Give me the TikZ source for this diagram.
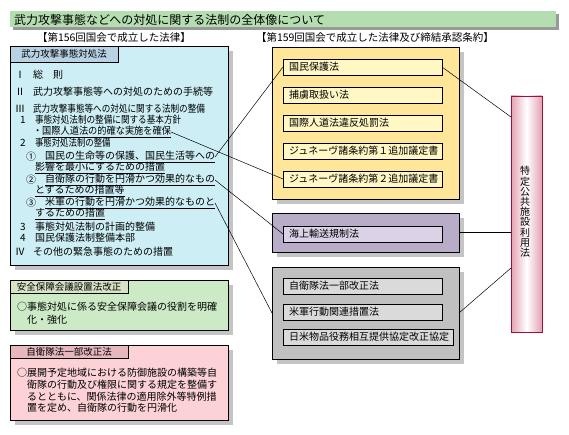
\documentclass[tikz,border=0pt]{standalone}
\usepackage{fontspec}
\setmainfont{Noto Sans CJK JP}
\usetikzlibrary{shadows}
\definecolor{titlegreen}{HTML}{B4DEB0}
\definecolor{bluebox}{HTML}{CCEEF4}
\definecolor{bluetab}{HTML}{B8D2E4}
\definecolor{greenbox}{HTML}{CCEAC6}
\definecolor{greentab}{HTML}{D8E2C4}
\definecolor{pinkbox}{HTML}{FCD2D6}
\definecolor{pinktab}{HTML}{E6B8BE}
\definecolor{yellowbox}{HTML}{FFE698}
\definecolor{yellowin}{HTML}{FFF7C4}
\definecolor{purplebox}{HTML}{B8ACC8}
\definecolor{purplein}{HTML}{DCD2E8}
\definecolor{graybox}{HTML}{C0C0C0}
\definecolor{grayin}{HTML}{DADADA}
\definecolor{barpink}{HTML}{E2A2B2}
\definecolor{barline}{HTML}{A0103C}
\definecolor{shadowc}{HTML}{C4C4C4}
\begin{document}
\begin{tikzpicture}[x=1pt,y=-1pt,
  every node/.style={inner sep=0pt,outer sep=0pt,font=\fontsize{10}{12}\selectfont},
  box/.style={draw=black,line width=0.7pt,anchor=north west},
  shad/.style={drop shadow={shadow xshift=5pt,shadow yshift=-5pt,fill=shadowc,opacity=1}},
  conn/.style={draw=black,line width=0.5pt},
  tabtxt/.style={font=\fontsize{9.5}{11}\selectfont},
  txt/.style={anchor=west}]
\useasboundingbox (0,0) rectangle (569,435);
\fill[white] (0,0) rectangle (569,435);
% title
\node[box,fill=titlegreen,draw=none,minimum width=546pt,minimum height=16pt,
  drop shadow={shadow xshift=3pt,shadow yshift=-3pt,fill=black!40,opacity=1}] (titlebar) at (10,11) {};
\node[txt,font=\fontsize{12}{14}\selectfont] (title) at (14,19.5) {武力攻撃事態などへの対処に関する法制の全体像について};
% headers
\node[font=\fontsize{10.5}{12}\selectfont] (h1) at (114,38) {【第156回国会で成立した法律】};
\node[txt,font=\fontsize{10.5}{12}\selectfont] (h2) at (256,38) {【第159回国会で成立した法律及び締結承認条約】};
% blue box
\node[box,fill=bluebox,shad,minimum width=218pt,minimum height=219pt] (bbox) at (10,46) {};
\node[box,fill=bluetab,minimum width=108pt,minimum height=16pt] (btab) at (10,46) {};
\node[tabtxt] (btabt) at (btab.center) {武力攻撃事態対処法};
\node[txt] (n1) at (15,75) {Ⅰ};
\node[txt] (t1) at (33,75) {総\hspace{10pt}則};
\node[txt] (n2) at (15,92) {Ⅱ};
\node[txt] (t2) at (33,92) {武力攻撃事態等への対処のための手続等};
\node[txt] (n3) at (15,109) {Ⅲ};
\node[txt] (t3) at (33,109) {\scalebox{0.86}[1]{武力攻撃事態等への対処に関する法制の整備}};
\node[txt] (n4) at (20,120) {1};
\node[txt] (t4) at (35,120) {\scalebox{0.86}[1]{事態対処法制の整備に関する基本方針}};
\node[txt] (t5) at (33,132) {\scalebox{0.92}[1]{・\underline{国際人道法の的確な実施を確保}}};
\node[txt] (n6) at (20,143) {2};
\node[txt] (t6) at (35,143) {\scalebox{0.84}[1]{事態対処法制の整備}};
\node[txt] (n7) at (26,157) {①};
\node[txt] (t7) at (45,157) {\underline{国民の生命等の保護、国民生活等への}};
\node[txt] (t8) at (35,168) {\underline{影響を最小にするための措置}};
\node[txt] (n9) at (26,180) {②};
\node[txt] (t9) at (45,180) {\underline{自衛隊の行動を円滑かつ効果的なもの}};
\node[txt] (t10) at (35,191) {\underline{とするための措置等}};
\node[txt] (n11) at (26,203) {③};
\node[txt] (t11) at (45,203) {\underline{米軍の行動を円滑かつ効果的なものと}};
\node[txt] (t12) at (35,214) {\underline{するための措置}};
\node[txt] (n13) at (20,227) {3};
\node[txt] (t13) at (35,227) {事態対処法制の計画的整備};
\node[txt] (n14) at (20,238) {4};
\node[txt] (t14) at (35,238) {国民保護法制整備本部};
\node[txt] (n15) at (15,252) {Ⅳ};
\node[txt] (t15) at (33,252) {その他の緊急事態のための措置};
% green box
\node[box,fill=greenbox,shad,minimum width=218pt,minimum height=50pt] (gbox) at (10,280) {};
\node[box,fill=greentab,minimum width=118pt,minimum height=13pt] (gtab) at (10,280) {};
\node[tabtxt] (gtabt) at (gtab.center) {安全保障会議設置法改正};
\node[txt] (g1) at (17,307) {○事態対処に係る安全保障会議の役割を明確};
\node[txt] (g2) at (27,320) {化・強化};
% pink box
\node[box,fill=pinkbox,shad,minimum width=218pt,minimum height=75pt] (pbox) at (10,345) {};
\node[box,fill=pinktab,minimum width=118pt,minimum height=13pt] (ptab) at (10,345) {};
\node[tabtxt] (ptabt) at (ptab.center) {自衛隊法一部改正法};
\node[txt] (p1) at (17,373) {○展開予定地域における防御施設の構築等自};
\node[txt] (p2) at (27,385) {衛隊の行動及び権限に関する規定を整備す};
\node[txt] (p3) at (27,397) {るとともに、関係法律の適用除外等特例措};
\node[txt] (p4) at (27,408) {置を定め、自衛隊の行動を円滑化};
% yellow box
\node[box,fill=yellowbox,shad,minimum width=187pt,minimum height=152pt] (ybox) at (272,47) {};
\node[box,fill=yellowin,minimum width=159pt,minimum height=16pt] (k1) at (283,59) {};
\node[txt] at (289,67) {国民保護法};
\node[box,fill=yellowin,minimum width=159pt,minimum height=16pt] (k2) at (283,87) {};
\node[txt] at (289,95) {捕虜取扱い法};
\node[box,fill=yellowin,minimum width=159pt,minimum height=16pt] (k3) at (283,115) {};
\node[txt] at (289,123) {国際人道法違反処罰法};
\node[box,fill=yellowin,minimum width=159pt,minimum height=16pt] (k4) at (283,143) {};
\node[txt] at (289,151) {ジュネーヴ諸条約第１追加議定書};
\node[box,fill=yellowin,minimum width=159pt,minimum height=16pt] (k5) at (283,171) {};
\node[txt] at (289,179) {ジュネーヴ諸条約第２追加議定書};
% purple box
\node[box,fill=purplebox,shad,minimum width=187pt,minimum height=39pt] (vbox) at (272,213) {};
\node[box,fill=purplein,minimum width=159pt,minimum height=16pt] (v1) at (283,226) {};
\node[txt] at (289,234) {海上輸送規制法};
% gray box
\node[box,fill=graybox,shad,minimum width=187pt,minimum height=92pt] (sbox) at (272,267) {};
\node[box,fill=grayin,minimum width=159pt,minimum height=16pt] (s1) at (283,278) {};
\node[txt] at (289,286) {自衛隊法一部改正法};
\node[box,fill=grayin,minimum width=159pt,minimum height=16pt] (s2) at (283,304) {};
\node[txt] at (289,312) {米軍行動関連措置法};
\node[box,fill=grayin,minimum width=170pt,minimum height=16pt] (s3) at (283,329) {};
\node[txt] at (289,337) {日米物品役務相互提供協定改正協定};
% bar
\node[draw=barline,line width=0.8pt,anchor=north west,minimum width=31pt,minimum height=236pt,
  left color=barpink,right color=barpink,middle color=white] (bar) at (511,96) {};
\node[align=center,font=\fontsize{10}{10.2}\selectfont] (bart) at (525,212) {特\\定\\公\\共\\施\\設\\利\\用\\法};
\coordinate (b1) at (511,117);
\coordinate (b3) at (511,268);
% connectors
\draw[conn] (t5.east) -- (k5.west);
\draw[conn] (t7.east) -- (k1.west);
\draw[conn] (t9.east) -- (v1.west);
\draw[conn] (t11.east) -- (sbox.west);
\draw[conn] (k1.east) -- (b1);
\draw[conn] (vbox.east) -- (vbox.east -| bar.west);
\draw[conn] (sbox.east) -- (b3);
\end{tikzpicture}
\end{document}
